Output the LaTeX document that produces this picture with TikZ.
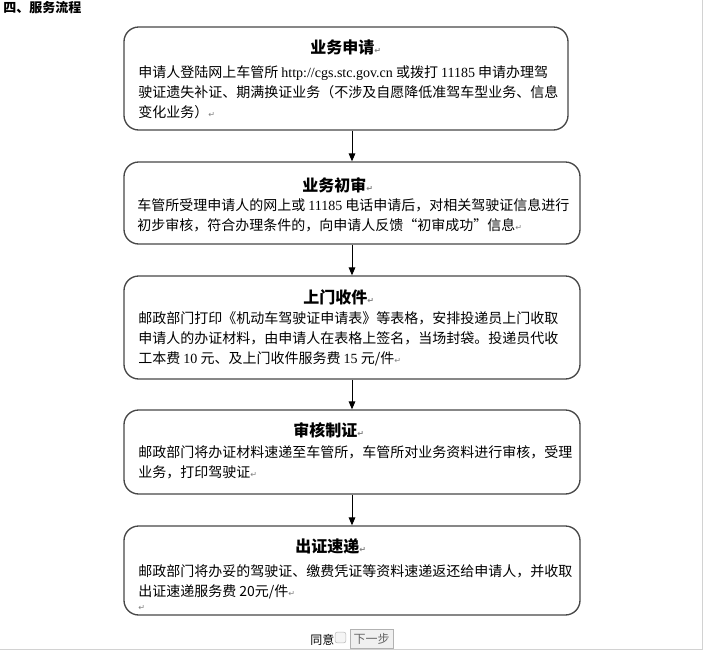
\documentclass[tikz,border=0pt]{standalone}
\usepackage{fontspec}
\usepackage{xcolor}
\setmainfont{Noto Sans CJK SC}
\newfontfamily\latfont{Liberation Serif}
\newfontfamily\symfont{DejaVu Sans}
\usetikzlibrary{arrows.meta}

\newcommand{\retmark}{{\symfont\fontsize{6}{6}\selectfont\color{gray}↵}}
\newcommand{\lat}[1]{{\latfont #1}}

\begin{document}
\begin{tikzpicture}[x=0.75pt, y=-0.75pt,
  box/.style={draw=black!72, line width=1pt, rounded corners=11pt, fill=white},
  title/.style={anchor=west, inner sep=0pt, font=\fontsize{12}{14}\selectfont\bfseries},
  body/.style={anchor=north west, inner sep=0pt, align=left, font=\fontsize{10.5}{15}\selectfont},
  line/.style={-{Triangle[length=6pt, width=5pt]}, line width=0.75pt}]

\useasboundingbox (0,0) rectangle (704,651);
\draw[gray!35, line width=0.75pt] (0,649) -- (702,649) -- (702,0);

\node[anchor=west, inner sep=0pt, font=\fontsize{9.75}{11}\selectfont\bfseries] (head) at (3,8) {四、服务流程};

% steps
\node[box, minimum width=333pt, minimum height=77.25pt] (apply) at (346,78.5) {};
\node[title] (applyT) at (310,47) {业务申请\retmark};
\node[body] (applyB) at (138,65) {申请人登陆网上车管所 \lat{http://cgs.stc.gov.cn} 或拨打 \lat{11185} 申请办理驾\\
驶证遗失补证、期满换证业务（不涉及自愿降低准驾车型业务、信息\\
变化业务）\retmark};

\node[box, minimum width=342pt, minimum height=61.5pt] (review) at (352,203) {};
\node[title] (reviewT) at (302,185) {业务初审\retmark};
\node[body] (reviewB) at (137,198) {车管所受理申请人的网上或 \lat{11185} 电话申请后，对相关驾驶证信息进行\\
初步审核，符合办理条件的，向申请人反馈“初审成功”信息\retmark};

\node[box, minimum width=342pt, minimum height=77.25pt] (pickup) at (352,327.5) {};
\node[title] (pickupT) at (303,297) {上门收件\retmark};
\node[body] (pickupB) at (138,311) {邮政部门打印《机动车驾驶证申请表》等表格，安排投递员上门收取\\
申请人的办证材料，由申请人在表格上签名，当场封袋。投递员代收\\
工本费 \lat{10} 元、及上门收件服务费 \lat{15} 元/件\retmark};

\node[box, minimum width=342pt, minimum height=63pt] (produce) at (352,452) {};
\node[title] (produceT) at (293,430) {审核制证\retmark};
\node[body] (produceB) at (138,445) {邮政部门将办证材料速递至车管所，车管所对业务资料进行审核，受理\\
业务，打印驾驶证\retmark};

\node[box, minimum width=342pt, minimum height=66.75pt] (deliver) at (352,570.5) {};
\node[title] (deliverT) at (295,546) {出证速递\retmark};
\node[body] (deliverB) at (138,564) {邮政部门将办妥的驾驶证、缴费凭证等资料速递返还给申请人，并收取\\
出证速递服务费 20元/件\retmark\\[-4pt]
\retmark};

\draw[line] (review.north |- apply.south) -- (review.north);
\draw[line] (review) -- (pickup);
\draw[line] (pickup) -- (produce);
\draw[line] (produce) -- (deliver);

% form controls
\node[anchor=west, inner sep=0pt, font=\fontsize{9}{9}\selectfont] (agree) at (310,640) {同意};
\node[draw=gray!55, fill=gray!8, rounded corners=1.5pt, minimum size=8pt, inner sep=0pt] (tick) at (340.5,637.5) {};
\node[draw=gray!60, fill=gray!12, minimum width=32pt, minimum height=14pt, inner sep=0pt,
      text=gray!80!black, font=\fontsize{9}{9}\selectfont] (next) at (371.5,638.5) {下一步};
\end{tikzpicture}
\end{document}
